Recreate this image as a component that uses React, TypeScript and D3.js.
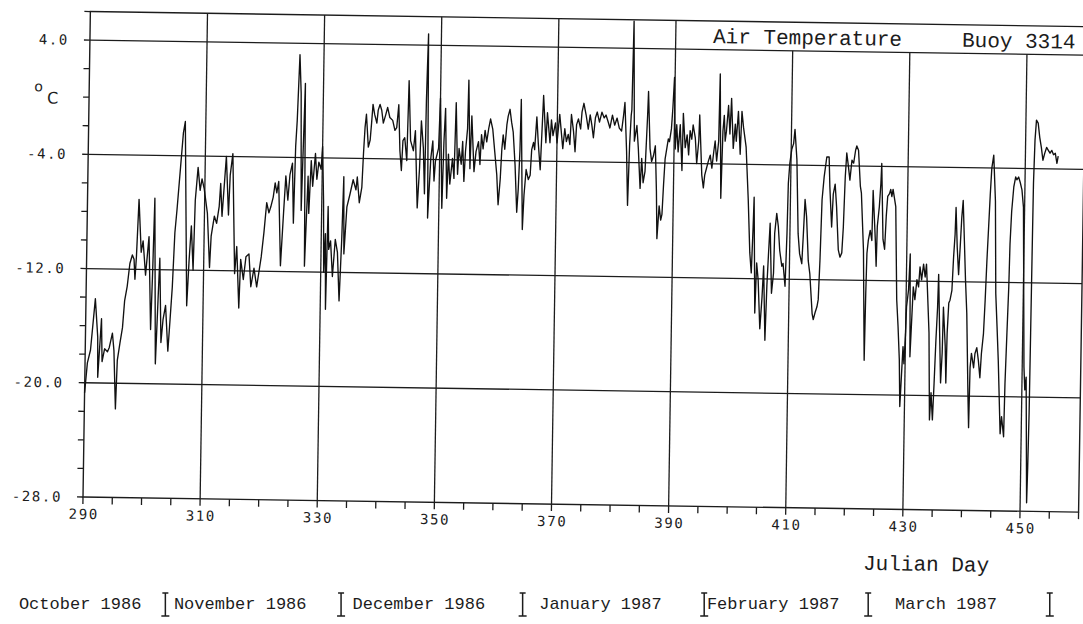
import React from 'react';
import * as d3 from 'd3';

// ---- data (Julian day, air temperature °C) ----
const lateOctober: [number, number][] = [
[290.0,-20.7],[290.4,-18.6],[290.9,-17.7],[291.6,-14.1],[292.1,-16.8],[292.2,-19.6],[292.7,-15.5],[292.9,-18.5],[293.3,-17.6],[293.8,-17.8],[294.1,-17.5],[294.6,-16.5],[294.9,-17.7],[295.3,-21.8],[295.5,-18.4],[295.9,-17.2],[296.3,-16.1],[296.6,-14.2],[297.0,-13.2],[297.4,-11.6],[297.8,-11.0],[298.1,-11.3],[298.3,-12.7],[298.5,-11.1],[298.8,-7.1],[299.3,-10.8],[299.6,-10.0],[300.1,-12.4],[300.6,-9.7],[301.1,-16.2],[301.3,-12.3],[301.5,-7.0],[302.0,-18.6],[302.3,-14.1],[302.5,-11.2],[302.9,-17.1],[303.2,-15.5],[303.6,-14.5],[304.1,-17.7],[304.4,-15.5],[304.7,-13.2]
];
const november: [number, number][] = [
[305.0,-9.4],[305.3,-7.8],[305.8,-4.8],[306.2,-2.4],[306.5,-1.6],[307.2,-14.5],[307.5,-11.3],[307.8,-8.9],[308.2,-12.0],[308.4,-7.1],[308.8,-4.8],[309.2,-6.4],[309.5,-5.6],[309.9,-6.3],[310.5,-8.0],[311.0,-11.8],[311.2,-9.6],[311.7,-8.2],[312.1,-8.7],[312.5,-7.5],[312.7,-5.9],[313.0,-8.2],[313.4,-5.4],[313.6,-4.0],[314.1,-8.1],[314.3,-5.3],[314.7,-3.8],[315.0,-8.0],[315.3,-12.2],[315.6,-10.3],[316.1,-14.6],[316.3,-11.2],[316.8,-12.6],[317.2,-11.0],[317.7,-10.8],[318.1,-13.1],[318.6,-11.8],[319.1,-13.1],[319.5,-11.9],[319.8,-11.0],[320.2,-9.3],[320.6,-7.2],[321.0,-7.9],[321.3,-7.5],[321.7,-6.8],[322.0,-5.8],[322.3,-6.5],[322.6,-5.7],[323.1,-11.6],[323.5,-7.9],[323.8,-5.3],[324.2,-7.0],[324.5,-5.2],[324.9,-4.4],[325.2,-8.6],[325.4,-3.2],[325.6,-1.4],[325.9,3.2],[326.2,0.5],[326.5,-7.7],[326.9,1.2],[327.2,-11.6],[327.6,-5.3],[327.8,-7.9],[328.1,-4.2],[328.4,-6.0],[328.8,-3.7],[329.1,-5.5],[329.4,-4.3],[329.8,-4.8],[330.0,-3.2],[330.3,-7.0],[330.5,-12.0],[330.7,-9.3],[330.9,-14.6],[331.1,-7.4],[331.3,-10.4],[331.6,-9.8],[332.0,-12.3],[332.4,-9.7],[332.8,-10.6],[333.2,-14.0],[333.5,-9.7],[333.7,-5.3],[333.9,-10.7],[334.3,-7.4],[334.8,-6.5]
];
const december: [number, number][] = [
[335.3,-5.5],[335.8,-6.2],[336.0,-5.3],[336.4,-7.1],[336.8,-6.0],[337.0,-3.6],[337.2,-1.8],[337.4,-0.9],[337.8,-3.2],[338.1,-2.7],[338.3,-1.5],[338.5,-0.2],[338.8,-0.9],[339.2,-1.5],[339.4,-0.6],[339.7,-0.2],[340.0,-0.6],[340.3,-1.5],[340.7,-0.9],[341.0,-0.4],[341.4,-1.1],[341.9,-1.3],[342.3,-2.0],[342.6,-1.8],[342.9,-0.2],[343.2,-3.4],[343.5,-4.8],[343.7,-2.7],[344.0,-2.5],[344.4,-4.1],[344.6,1.5],[345.0,-2.7],[345.5,-3.4],[345.8,-2.0],[346.3,-7.4],[346.6,-4.6],[346.8,-1.3],[347.2,-3.2],[347.5,-6.4],[347.6,0.1],[347.7,2.6],[347.8,4.8],[348.1,-8.1],[348.5,-3.9],[348.8,-2.7],[349.1,-5.5],[349.3,-4.1],[349.8,-3.2],[350.0,0.3],[350.2,-2.5],[350.5,-7.4],[350.7,-2.7],[350.9,-0.4],[351.3,-6.7],[351.5,-3.6],[351.8,-5.7],[352.2,-3.9],[352.5,-5.3],[352.7,0.0],[353.1,-5.0],[353.3,-3.2],[353.7,-4.3],[353.9,-2.7],[354.2,-5.5],[354.4,-3.4],[354.7,-1.8],[354.8,1.6],[355.2,-4.6],[355.4,-0.9],[355.9,-4.8],[356.2,-3.4],[356.6,-2.7],[356.9,-4.3],[357.1,-2.2],[357.4,-3.2],[357.7,-1.9],[358.0,-2.7],[358.3,-1.8],[358.6,-1.1],[359.0,-1.8],[359.4,-3.4],[359.8,-5.0],[360.1,-7.1],[360.4,-5.3],[360.6,-3.2],[360.8,-2.2],[361.1,-3.2],[361.4,-1.5],[361.6,-0.9],[361.9,-0.4],[362.2,-1.3],[362.5,-2.0],[362.9,-4.3],[363.3,-7.6],[363.5,-6.0],[363.7,-3.2],[363.8,0.3],[364.3,-8.8],[364.5,-6.4],[364.8,-4.6],[365.2,-5.3],[365.5,-5.0],[365.7,-3.2]
];
const january: [number, number][] = [
[366.0,-2.7],[366.2,-3.2],[366.5,-0.9],[366.8,-2.7],[367.2,-4.6],[367.4,-2.0],[367.6,0.6],[368.1,-2.7],[368.3,-0.6],[368.8,-2.7],[369.0,-1.1],[369.3,-2.2],[369.7,-1.3],[370.0,-2.7],[370.4,-0.7],[371.0,-3.1],[371.3,-1.7],[371.6,-2.6],[371.9,-2.1],[372.2,-2.8],[372.4,-0.7],[372.8,-1.9],[373.1,-3.3],[373.3,-1.4],[373.6,-1.0],[374.0,-1.7],[374.2,-0.5],[374.5,0.1],[374.9,-0.7],[375.3,-1.7],[375.6,-0.7],[375.9,-1.4],[376.2,-2.3],[376.5,-0.9],[376.8,-0.5],[377.2,-1.2],[377.6,-0.5],[378.0,-0.9],[378.3,-0.7],[378.7,-1.2],[379.0,-1.6],[379.4,-0.7],[379.8,-1.4],[380.2,-0.9],[380.6,-1.6],[381.0,-1.8],[381.3,-0.7],[381.5,0.2],[381.9,-3.2],[382.2,-7.0],[382.4,-2.8],[382.6,-0.7],[382.7,-0.3],[382.85,5.9],[383.2,-2.5],[383.6,-1.4],[383.9,-3.0],[384.3,-5.8],[384.5,-3.7],[384.8,-5.4],[385.1,-4.6],[385.4,-0.7],[385.5,1.0],[385.9,-3.0],[386.2,-3.9],[386.5,-3.5],[386.8,-2.8],[387.1,-6.0],[387.3,-9.3],[387.6,-7.0],[387.9,-8.0],[388.1,-7.6],[388.3,-5.5],[388.5,-3.7],[389.0,-2.3],[389.2,-2.5],[389.5,-1.6],[389.7,-0.1],[389.9,2.0],[390.2,-3.0],[390.4,-1.3],[390.7,-3.2],[391.0,-1.3],[391.4,-4.5],[391.5,-0.5],[391.9,-2.9],[392.2,-2.0],[392.5,-3.4],[392.7,-1.7],[393.0,-2.3],[393.2,-1.3],[393.6,-2.2],[393.9,-4.0],[394.2,-2.4],[394.3,-0.6],[394.8,-4.8],[395.1,-5.7],[395.3,-4.8],[395.6,-4.3],[395.9,-3.8],[396.2,-3.4],[396.5,-4.3],[396.8,-3.1]
];
const february: [number, number][] = [
[397.0,-2.4],[397.3,-3.8],[397.6,-2.4],[397.7,2.3],[398.1,-6.4],[398.3,-1.7],[398.5,-0.6],[398.7,-2.4],[398.9,-1.7],[399.2,0.1],[399.5,-1.9],[399.7,0.6],[400.1,-2.9],[400.4,-1.2],[400.6,-2.4],[400.9,-0.3],[401.3,-3.3],[401.5,-0.3],[401.8,-1.4],[402.3,-2.8],[402.8,-6.5],[403.2,-10.2],[403.5,-11.6],[403.7,-8.4],[403.8,-6.3],[404.2,-14.4],[404.4,-10.9],[404.7,-12.1],[405.1,-15.5],[405.4,-13.3],[405.6,-11.1],[406.0,-16.3],[406.2,-12.5],[406.4,-10.2],[406.6,-8.1],[407.0,-13.0],[407.3,-11.6],[407.4,-8.8],[407.7,-7.4],[408.0,-8.3],[408.3,-10.0],[408.7,-11.1],[408.9,-10.9],[409.3,-12.5],[409.5,-8.8],[409.6,-5.3],[409.8,-3.9],[410.1,-2.9],[410.4,-2.5],[410.6,-1.5],[411.0,-3.6],[411.4,-8.8],[411.7,-10.2],[412.1,-10.9],[412.3,-8.8],[412.5,-6.4],[412.8,-7.6],[413.2,-10.7],[413.5,-11.6],[414.0,-14.4],[414.2,-14.8],[414.5,-14.3],[414.8,-13.9],[415.0,-13.4],[415.2,-10.6],[415.4,-6.4],[415.7,-4.8],[416.1,-3.4],[416.5,-3.4],[416.7,-5.5],[417.1,-8.3],[417.3,-6.0],[417.6,-5.3],[417.9,-6.9],[418.3,-9.9],[418.6,-10.4],[418.9,-10.1],[419.1,-8.3],[419.3,-4.8],[419.5,-3.1],[419.8,-4.0],[420.1,-5.0],[420.4,-3.6],[420.7,-3.8],[421.0,-2.9],[421.2,-2.6],[421.5,-2.9],[421.9,-5.4],[422.1,-5.9],[422.6,-9.9],[423.0,-17.6],[423.1,-12.9],[423.2,-10.1],[423.4,-9.2],[423.7,-8.5],[424.0,-9.2],[424.1,-5.7],[424.6,-9.2],[424.8,-11.0]
];
const march: [number, number][] = [
[424.9,-8.2],[425.2,-6.8],[425.4,-5.2],[425.5,-3.8],[425.9,-9.1],[426.2,-9.8],[426.4,-7.5],[426.6,-6.1],[426.9,-5.9],[427.1,-5.6],[427.3,-6.1],[427.5,-5.6],[428.0,-6.8],[428.4,-13.3],[428.7,-15.2],[429.0,-17.5],[429.2,-20.8],[429.4,-18.7],[429.6,-16.6],[429.8,-17.8],[430.0,-15.6],[430.1,-13.8],[430.4,-12.6],[430.6,-10.1],[430.8,-17.3],[431.2,-12.4],[431.5,-13.3],[431.8,-11.9],[432.1,-12.4],[432.3,-11.0],[432.6,-11.9],[432.9,-10.8],[433.2,-11.7],[433.4,-10.8],[434.0,-15.6],[434.3,-21.7],[434.5,-19.8],[434.8,-21.7],[435.0,-19.1],[435.2,-16.1],[435.4,-13.8],[435.5,-11.5],[435.8,-15.4],[436.1,-19.1],[436.3,-17.0],[436.4,-13.8],[436.8,-16.5],[437.0,-19.1],[437.1,-15.6],[437.3,-13.5],[437.5,-13.3],[437.8,-12.6],[438.0,-10.3],[438.2,-8.7],[438.3,-6.8],[438.6,-9.6],[438.9,-11.5],[439.1,-9.6],[439.3,-7.5],[439.5,-6.3],[439.8,-9.1],[440.1,-11.9],[440.4,-14.2],[440.8,-19.8],[441.0,-22.2],[441.1,-18.0],[441.3,-17.0],[441.7,-18.0],[441.9,-17.0],[442.2,-16.6],[442.5,-17.5],[442.8,-18.7],[443.0,-17.0],[443.3,-15.6],[443.5,-13.3],[443.7,-10.5],[443.9,-8.2],[444.1,-5.9],[444.3,-4.0],[444.6,-3.1],[445.0,-6.3],[445.3,-12.8],[445.6,-15.1],[445.9,-17.5],[446.4,-22.6],[446.6,-21.4],[447.0,-22.8],[447.1,-19.1],[447.3,-15.6],[447.5,-12.3],[447.6,-9.3],[447.8,-7.0],[448.1,-5.3],[448.4,-4.6],[448.6,-4.8],[448.9,-4.6],[449.2,-5.0],[449.5,-5.5],[449.8,-6.7],[450.3,-17.9],[450.5,-19.5],[450.7,-18.6],[451.1,-27.4],[451.2,-24.9],[451.3,-21.1],[451.35,-15.5],[451.4,-9.7],[451.45,-5.0],[451.6,-2.0],[451.8,-0.6],[452.1,-0.8],[452.4,-1.8],[452.7,-2.5],[453.0,-3.4],[453.3,-2.9],[453.6,-2.5],[453.9,-2.7],[454.2,-2.9],[454.5,-2.7],[454.8,-3.0],[455.1,-2.9],[455.4,-3.6],[455.6,-3.1]
];

const yTickLabels = [4, -4, -12, -20, -28];
const yGridValues = [4, -4, -12, -20];
const xTickLabels = [290, 310, 330, 350, 370, 390, 410, 430, 450];
const monthNames = ['October 1986', 'November 1986', 'December 1986', 'January 1987', 'February 1987', 'March 1987'];
const monthStarts = [274, 305, 335, 366, 397, 425, 456];
const titleText = 'Air Temperature';
const buoyText = 'Buoy 3314';

// ---- layout ----
const W = 1083, H = 624;
const X0 = 83, Y0 = 497; // bottom-left of plot (pivot of scan tilt)
const PX_PER_DAY = 5.857, PX_PER_DEG = 14.28;
const TILT = 0.87;
const ink = '#1c1c1c';
const monoFont = '"Liberation Mono", "DejaVu Sans Mono", monospace';
const tickFont = '"DejaVu Sans Mono", monospace';

export default function App() {
  const series = [...lateOctober, ...november, ...december, ...january, ...february, ...march];
  const x = d3.scaleLinear().domain([290, 460]).range([X0, X0 + 170 * PX_PER_DAY]);
  const y = d3.scaleLinear().domain([-28, 6]).range([Y0, Y0 - 34 * PX_PER_DEG]);
  const line = d3.line<[number, number]>().x(d => x(d[0])).y(d => y(d[1]));
  const [xl, xr] = x.range();
  const yTop = y(6), yBot = y(-28);
  const titleLeft = x(399);
  const minorX = d3.range(290, 461, 5);
  const minorY = d3.range(-28, 7, 2);
  const sepX = (d: number) => x(d) - 5.5;

  return (
    <svg width={W} height={H} style={{ position: 'absolute', left: 0, top: 0, background: '#fff' }}>
      <rect x={0} y={0} width={W} height={H} fill="#fff" />
      <g transform={`rotate(${TILT} ${X0} ${Y0})`}>
        {/* frame */}
        <rect x={xl} y={yTop} width={xr - xl} height={yBot - yTop} fill="none" stroke={ink} strokeWidth={1.4} />
        {/* horizontal grid */}
        {yGridValues.map(v => (
          <line key={'hg' + v} x1={xl} x2={xr} y1={y(v)} y2={y(v)} stroke={ink} strokeWidth={1.3} />
        ))}
        {/* vertical grid */}
        {xTickLabels.slice(1).map(d => (
          <line key={'vg' + d} x1={x(d)} x2={x(d)} y1={x(d) > titleLeft ? y(4) : yTop} y2={yBot} stroke={ink} strokeWidth={1.3} />
        ))}
        {/* ticks */}
        {minorX.map(d => (
          <line key={'xt' + d} x1={x(d)} x2={x(d)} y1={yBot} y2={yBot + 7} stroke={ink} strokeWidth={1.3} />
        ))}
        {minorY.map(v => (
          <line key={'yt' + v} x1={xl - 6} x2={xl} y1={y(v)} y2={y(v)} stroke={ink} strokeWidth={1.3} />
        ))}
        {/* tick labels */}
        {yTickLabels.map(v => (
          <text key={'yl' + v} x={xl - 21} y={y(v) + 5} textAnchor="end" fontFamily={tickFont} fontSize={14} letterSpacing={1.6} fill={ink}>
            {v.toFixed(1)}
          </text>
        ))}
        {xTickLabels.map(d => (
          <text key={'xl' + d} x={x(d) + 1} y={yBot + 22} textAnchor="middle" fontFamily={tickFont} fontSize={14} letterSpacing={1.6} fill={ink}>
            {d}
          </text>
        ))}
        {/* unit */}
        <text x={28} y={92} fontFamily='"DejaVu Sans", sans-serif' fontSize={14} fill={ink}>o</text>
        <text x={41} y={104} fontFamily='"DejaVu Sans", sans-serif' fontSize={16} fill={ink}>C</text>
        {/* titles */}
        <text x={706} y={33.5} fontFamily={monoFont} fontSize={21} fill={ink}>{titleText}</text>
        <text x={955} y={33.5} fontFamily={monoFont} fontSize={21} fill={ink}>{buoyText}</text>
        <text x={864} y={558} fontFamily={monoFont} fontSize={21} fill={ink}>Julian Day</text>
        {/* data */}
        <path d={line(series) || ''} fill="none" stroke="#111" strokeWidth={1.35} strokeLinejoin="round" />
      </g>
      {/* month row */}
      {monthStarts.slice(1).map(d => {
        const sx = sepX(d);
        return (
          <g key={'ms' + d} stroke={ink} strokeWidth={1.5}>
            <line x1={sx} x2={sx} y1={593} y2={616} />
            <line x1={sx - 3} x2={sx + 3} y1={593} y2={593} />
            <line x1={sx - 4} x2={sx + 4} y1={616} y2={616} />
          </g>
        );
      })}
      {monthNames.map((m, i) => {
        const partial = monthStarts[i] < 290;
        const cx = partial
          ? sepX(monthStarts[i + 1]) - 24
          : (sepX(monthStarts[i]) + sepX(monthStarts[i + 1])) / 2 - 13;
        return (
          <text key={m} x={cx} y={609} textAnchor={partial ? 'end' : 'middle'} fontFamily={monoFont} fontSize={17} fill={ink}>{m}</text>
        );
      })}
    </svg>
  );
}
